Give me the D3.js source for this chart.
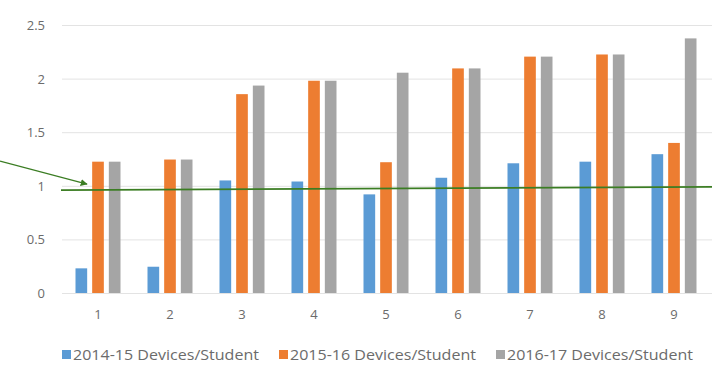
<!DOCTYPE html>
<html>
<head>
<meta charset="utf-8">
<script src="https://cdn.jsdelivr.net/npm/d3@7"></script>
<style>
  body { margin: 0; background: #fff; }
  svg { display: block; font-family: "Open Sans", "DejaVu Sans", sans-serif; }
</style>
</head>
<body>
<svg id="chart"></svg>
<script>
var width = 712;
var height = 369;

var categories = ['1', '2', '3', '4', '5', '6', '7', '8', '9'];
var seriesNames = ['2014-15 Devices/Student', '2015-16 Devices/Student', '2016-17 Devices/Student'];
var devices1415 = [0.23, 0.245, 1.05, 1.04, 0.92, 1.075, 1.21, 1.225, 1.295];
var devices1516 = [1.225, 1.245, 1.855, 1.98, 1.22, 2.095, 2.205, 2.225, 1.40];
var devices1617 = [1.225, 1.245, 1.935, 1.98, 2.055, 2.095, 2.205, 2.225, 2.375];
var yTicks = [0, 0.5, 1, 1.5, 2, 2.5];
var colors = ['#5b9bd5', '#ed7d31', '#a5a5a5'];

var allSeries = [devices1415, devices1516, devices1617];

var svg = d3.select('#chart')
    .attr('width', width)
    .attr('height', height);

var xScale = d3.scaleBand()
    .domain(categories)
    .range([62, 710])
    .paddingInner(0.375)
    .paddingOuter(0.1875);

var x1 = d3.scaleBand()
    .domain(seriesNames)
    .range([0, xScale.bandwidth()])
    .paddingInner(0.3);

var yScale = d3.scaleLinear()
    .domain([0, 2.5])
    .range([293, 25]);

// gridlines
svg.append('g')
  .selectAll('line')
  .data(yTicks)
  .enter()
  .append('line')
    .attr('x1', 62)
    .attr('x2', 712)
    .attr('y1', d => yScale(d) + 0.5)
    .attr('y2', d => yScale(d) + 0.5)
    .attr('stroke', '#e3e3e3')
    .attr('stroke-width', 1);

// y labels
svg.append('g')
  .selectAll('text')
  .data(yTicks)
  .enter()
  .append('text')
    .attr('x', 45)
    .attr('y', d => yScale(d) + 5)
    .attr('text-anchor', 'end')
    .attr('font-size', 13)
    .attr('fill', '#6b6b6b')
    .text(d => d);

// bars
var groups = svg.append('g')
  .selectAll('.group')
  .data(categories)
  .enter()
  .append('g')
    .classed('group', true)
    .attr('transform', d => 'translate(' + xScale(d) + ',0)');

groups.selectAll('rect')
  .data((d, i) => allSeries.map((s, j) => ({ name: seriesNames[j], value: s[i], k: j })))
  .enter()
  .append('rect')
    .attr('x', d => x1(d.name))
    .attr('y', d => yScale(d.value))
    .attr('width', x1.bandwidth())
    .attr('height', d => yScale(0) - yScale(d.value))
    .attr('fill', d => colors[d.k]);

// x labels
svg.append('g')
  .selectAll('text')
  .data(categories)
  .enter()
  .append('text')
    .attr('x', d => xScale(d) + xScale.bandwidth() / 2)
    .attr('y', 319)
    .attr('text-anchor', 'middle')
    .attr('font-size', 13)
    .attr('fill', '#6b6b6b')
    .text(d => d);

// legend
var legendX = [62, 279, 496];
var legend = svg.append('g')
  .selectAll('g')
  .data(seriesNames)
  .enter()
  .append('g')
    .attr('transform', (d, i) => 'translate(' + legendX[i] + ',0)');

legend.append('rect')
    .attr('x', 0)
    .attr('y', 350)
    .attr('width', 9)
    .attr('height', 9)
    .attr('fill', (d, i) => colors[i]);

legend.append('text')
    .attr('x', 11)
    .attr('y', 360)
    .attr('font-size', 14)
    .attr('textLength', 186)
    .attr('lengthAdjust', 'spacingAndGlyphs')
    .attr('fill', '#6b6b6b')
    .text(d => d);

// annotation: green line and arrow
var defs = svg.append('defs');
defs.append('marker')
    .attr('id', 'arrow')
    .attr('viewBox', '0 0 10 10')
    .attr('refX', 9)
    .attr('refY', 5)
    .attr('markerWidth', 5)
    .attr('markerHeight', 5)
    .attr('orient', 'auto')
  .append('path')
    .attr('d', 'M0,0 L10,5 L0,10 z')
    .attr('fill', '#3b7d23');

svg.append('line')
    .attr('x1', 61)
    .attr('y1', yScale(0.96))
    .attr('x2', 712)
    .attr('y2', yScale(0.99))
    .attr('stroke', '#3b7d23')
    .attr('stroke-width', 1.6);

svg.append('line')
    .attr('x1', 0)
    .attr('y1', yScale(1.23))
    .attr('x2', 87)
    .attr('y2', yScale(1.015))
    .attr('stroke', '#3b7d23')
    .attr('stroke-width', 1.4)
    .attr('marker-end', 'url(#arrow)');
</script>
</body>
</html>
